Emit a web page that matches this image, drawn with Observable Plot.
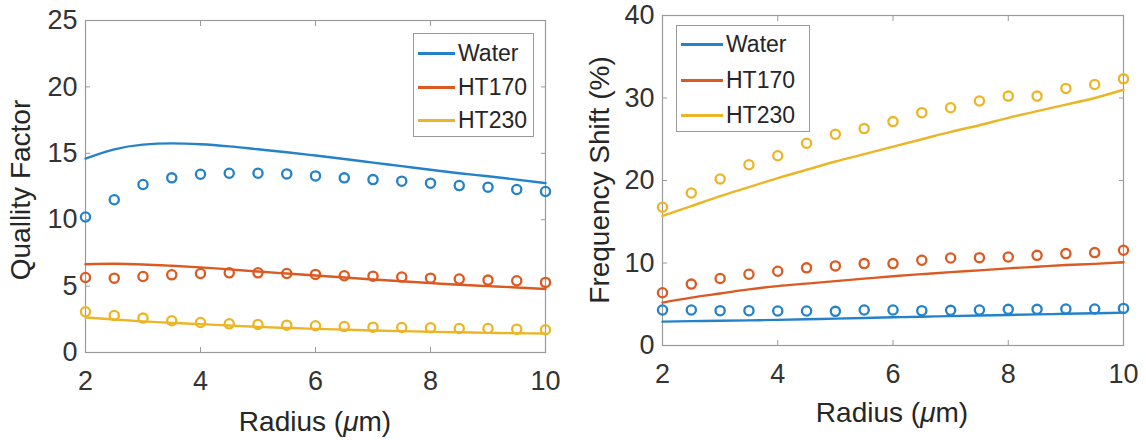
<!DOCTYPE html>
<html>
<head>
<meta charset="utf-8">
<script src="https://cdn.jsdelivr.net/npm/d3@7"></script>
<script src="https://cdn.jsdelivr.net/npm/@observablehq/plot@0.6"></script>
<style>
  html, body { margin: 0; padding: 0; background: #fff; }
  #wrap { position: relative; width: 1146px; height: 440px; font-family: "Liberation Sans", Arial, sans-serif; color: #262626; }
  .panel { position: absolute; top: 0; width: 573px; height: 440px; }
  .panel svg { position: absolute; left: 0; top: 0; }
  .ytitle { position: absolute; white-space: nowrap; font-size: 28px; transform: translate(-50%, -50%) rotate(-90deg); }
  .xtitle { position: absolute; white-space: nowrap; font-size: 28px; transform: translate(-50%, -50%); }
  .legend { position: absolute; border: 1px solid #9a9a9a; background: #fff; box-sizing: border-box; }
  .legend .row { position: absolute; left: 0; height: 30px; display: flex; align-items: center; font-size: 23px; }
  .legend .sw { display: inline-block; height: 3px; margin-right: 3px; }
</style>
</head>
<body>
<div id="wrap">
  <div class="panel" id="left" style="left:0"></div>
  <div class="panel" id="right" style="left:573px"></div>
</div>
<script>
// ---- data ----
const radius = [2, 2.5, 3, 3.5, 4, 4.5, 5, 5.5, 6, 6.5, 7, 7.5, 8, 8.5, 9, 9.5, 10];
const seriesNames = ["Water", "HT170", "HT230"];
const seriesColors = ["#2482c9", "#db5a22", "#ecb526"];
const xTicks = [2, 4, 6, 8, 10];
const qTicks = [0, 5, 10, 15, 20, 25];
const fTicks = [0, 10, 20, 30, 40];

// Quality factor (left)
const qWaterLine = [14.6, 15.3, 15.65, 15.75, 15.68, 15.52, 15.3, 15.08, 14.83, 14.57, 14.3, 14.03, 13.76, 13.5, 13.27, 13.02, 12.75];
const qWaterDots = [10.2, 11.5, 12.65, 13.15, 13.42, 13.5, 13.5, 13.45, 13.3, 13.15, 13.02, 12.9, 12.75, 12.57, 12.45, 12.27, 12.12];
const qHT170Line = [6.65, 6.68, 6.63, 6.53, 6.41, 6.26, 6.1, 5.95, 5.8, 5.65, 5.5, 5.36, 5.23, 5.1, 5.0, 4.9, 4.78];
const qHT170Dots = [5.65, 5.6, 5.72, 5.85, 5.95, 6.0, 6.0, 5.95, 5.88, 5.78, 5.75, 5.68, 5.6, 5.53, 5.45, 5.4, 5.28];
const qHT230Line = [2.64, 2.48, 2.34, 2.23, 2.14, 2.03, 1.93, 1.85, 1.78, 1.72, 1.66, 1.61, 1.56, 1.52, 1.48, 1.45, 1.43];
const qHT230Dots = [3.07, 2.79, 2.59, 2.39, 2.26, 2.16, 2.11, 2.06, 2.01, 1.96, 1.91, 1.88, 1.86, 1.81, 1.81, 1.76, 1.71];

// Frequency shift (right)
const fWaterLine = [2.9, 2.95, 3.0, 3.05, 3.1, 3.18, 3.26, 3.34, 3.42, 3.49, 3.56, 3.63, 3.7, 3.77, 3.84, 3.91, 3.98];
const fWaterDots = [4.3, 4.3, 4.22, 4.22, 4.18, 4.18, 4.14, 4.3, 4.3, 4.22, 4.26, 4.3, 4.38, 4.38, 4.42, 4.42, 4.5];
const fHT170Line = [5.2, 5.8, 6.3, 6.8, 7.2, 7.5, 7.8, 8.1, 8.4, 8.65, 8.9, 9.1, 9.35, 9.55, 9.75, 9.9, 10.1];
const fHT170Dots = [6.39, 7.44, 8.12, 8.64, 9.0, 9.41, 9.65, 9.93, 9.93, 10.33, 10.61, 10.65, 10.73, 10.93, 11.14, 11.26, 11.54];
const fHT230Line = [15.7, 16.9, 18.1, 19.2, 20.3, 21.3, 22.3, 23.2, 24.1, 25.0, 25.9, 26.7, 27.6, 28.4, 29.2, 30.0, 31.0];
const fHT230Dots = [16.76, 18.49, 20.18, 21.91, 23.0, 24.52, 25.61, 26.29, 27.14, 28.22, 28.82, 29.63, 30.23, 30.23, 31.16, 31.64, 32.32];

function table(lines) {
  const out = [];
  lines.forEach((vals, i) => vals.forEach((v, j) => out.push({r: radius[j], v, s: seriesNames[i]})));
  return out;
}

const axisColor = "#9a9a9a";
const textColor = "#333";
const tickFont = 27;

function panel({lines, dots, yDomain, yTicks, m}) {
  const lineData = table(lines);
  const dotData = table(dots);
  return Plot.plot({
    width: 573, height: 440,
    marginLeft: m[0], marginRight: m[1], marginTop: m[2], marginBottom: m[3],
    style: {fontFamily: "'Liberation Sans', Arial, sans-serif", fontSize: "27px", color: textColor, background: "transparent"},
    x: {domain: [2, 10]},
    y: {domain: yDomain},
    color: {domain: seriesNames, range: seriesColors},
    marks: [
      Plot.frame({stroke: axisColor, strokeWidth: 1.2}),
      Plot.axisX(xTicks, {anchor: "bottom", tickSize: -5, tickPadding: 23, stroke: axisColor, fill: textColor, fontSize: tickFont, label: null}),
      Plot.axisX(xTicks, {anchor: "top", tickSize: -5, tickFormat: () => "", stroke: axisColor, label: null}),
      Plot.axisY(yTicks, {anchor: "left", tickSize: -5, tickPadding: 13, stroke: axisColor, fill: textColor, fontSize: tickFont, label: null}),
      Plot.axisY(yTicks, {anchor: "right", tickSize: -5, tickFormat: () => "", stroke: axisColor, label: null}),
      Plot.line(lineData, {x: "r", y: "v", z: "s", stroke: "s", strokeWidth: 2.4, curve: "monotone-x"}),
      Plot.dot(dotData, {x: "r", y: "v", stroke: "s", r: 4.6, strokeWidth: 2.3, fill: "none"})
    ]
  });
}

function addLegend(el, {left, top, width, height, rows, swLen}) {
  const box = document.createElement("div");
  box.className = "legend";
  Object.assign(box.style, {left: left + "px", top: top + "px", width: width + "px", height: height + "px"});
  seriesNames.forEach((name, i) => {
    const row = document.createElement("div");
    row.className = "row";
    row.style.top = (rows[i] - 15) + "px";
    row.style.left = "4px";
    const sw = document.createElement("span");
    sw.className = "sw";
    sw.style.width = swLen + "px";
    sw.style.background = seriesColors[i];
    const t = document.createElement("span");
    t.textContent = name;
    row.appendChild(sw); row.appendChild(t);
    box.appendChild(row);
  });
  el.appendChild(box);
}

function addTitle(el, cls, text, x, y, html) {
  const d = document.createElement("div");
  d.className = cls;
  if (html) d.innerHTML = text; else d.textContent = text;
  d.style.left = x + "px"; d.style.top = y + "px";
  el.appendChild(d);
}

const left = document.getElementById("left");
left.appendChild(panel({
  lines: [qWaterLine, qHT170Line, qHT230Line],
  dots: [qWaterDots, qHT170Dots, qHT230Dots],
  yDomain: [0, 25], yTicks: qTicks, m: [85, 28, 20, 88]
}));
addLegend(left, {left: 413, top: 33, width: 121, height: 104, rows: [19, 53, 86], swLen: 37});
addTitle(left, "ytitle", "Quallity Factor", 21, 190);
addTitle(left, "xtitle", "Radius (<i>μ</i>m)", 315, 422, true);

const right = document.getElementById("right");
right.appendChild(panel({
  lines: [fWaterLine, fHT170Line, fHT230Line],
  dots: [fWaterDots, fHT170Dots, fHT230Dots],
  yDomain: [0, 40], yTicks: fTicks, m: [89, 23, 15, 95]
}));
addLegend(right, {left: 103, top: 25, width: 134, height: 107, rows: [18, 54, 89], swLen: 42});
addTitle(right, "ytitle", "Frequency Shift (%)", 27, 180);
addTitle(right, "xtitle", "Radius (<i>μ</i>m)", 319, 413, true);
</script>
</body>
</html>
